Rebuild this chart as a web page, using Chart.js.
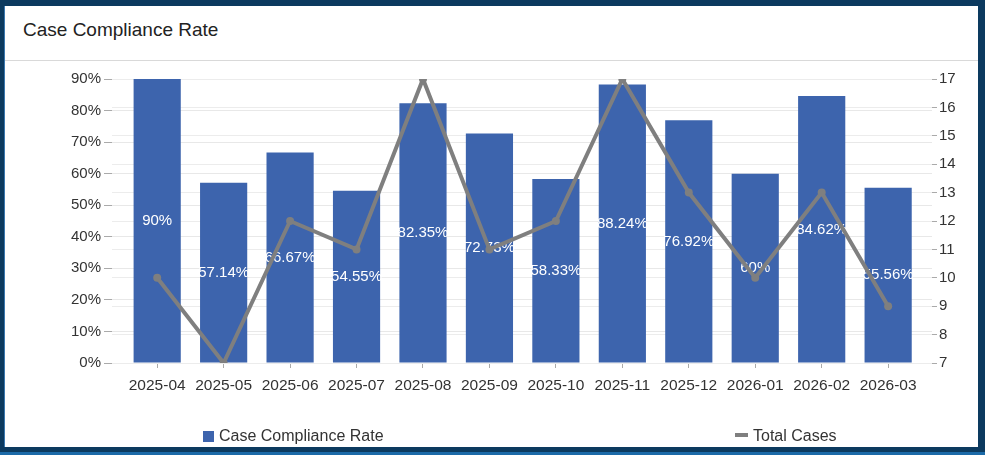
<!DOCTYPE html>
<html>
<head>
<meta charset="utf-8">
<script src="https://cdn.jsdelivr.net/npm/chart.js@4/dist/chart.umd.min.js"></script>
<style>
  html, body { margin: 0; padding: 0; }
  body { width: 985px; height: 455px; background: #0c3a5f; position: relative; overflow: hidden; font-family: "Liberation Sans", Arial, sans-serif; }
  .bottomBand { position: absolute; left: 0; top: 452px; width: 985px; height: 3px; background: #1b6aa8; }
  .panel { position: absolute; left: 4px; top: 6px; width: 974px; height: 441px; background: #fff; border-left: 1px solid #3a78b0; box-sizing: border-box; }
  .title { position: absolute; left: 23px; top: 19px; font-size: 19px; color: #222; }
  .sep { position: absolute; left: 5px; top: 60px; width: 973px; height: 1px; background: #d9d9d9; }
  #wrap { position: absolute; left: 0; top: 0; width: 985px; height: 455px; }
  .legend { position: absolute; top: 427px; font-size: 16px; color: #333; line-height: 18px; }
  .legend span.box { display: inline-block; width: 11px; height: 11px; background: #3d64ad; vertical-align: -1px; margin-right: 5px; }
  .legend span.dash { display: inline-block; width: 13px; height: 4px; background: #7f7f7f; vertical-align: 4px; margin-right: 5px; }
</style>
</head>
<body>
<div class="bottomBand"></div>
<div class="panel"></div>
<div class="title">Case Compliance Rate</div>
<div class="sep"></div>
<div id="wrap"><canvas id="chart"></canvas></div>
<div class="legend" style="left:203px"><span class="box"></span>Case Compliance Rate</div>
<div class="legend" style="left:735px"><span class="dash"></span>Total Cases</div>

<script>
// Chart data
const months = ["2025-04", "2025-05", "2025-06", "2025-07", "2025-08", "2025-09",
                "2025-10", "2025-11", "2025-12", "2026-01", "2026-02", "2026-03"];
const complianceRate = [90, 57.14, 66.67, 54.55, 82.35, 72.73, 58.33, 88.24, 76.92, 60, 84.62, 55.56];
const totalCases = [10, 7, 12, 11, 17, 11, 12, 17, 13, 10, 13, 9];
const rateTicks = [0, 10, 20, 30, 40, 50, 60, 70, 80, 90];
const caseTicks = [7, 8, 9, 10, 11, 12, 13, 14, 15, 16, 17];

const barColor = "#3d64ad";
const lineColor = "#7f7f7f";
const fontFamily = "Liberation Sans, Arial, sans-serif";

// white labels in the middle of each bar
const barLabels = {
  id: "barLabels",
  afterDatasetDraw(chart, args) {
    if (args.index !== 1) return;
    const ctx = chart.ctx;
    const yScale = chart.scales.y;
    ctx.save();
    ctx.fillStyle = "#fff";
    ctx.font = "15px " + fontFamily;
    ctx.textAlign = "center";
    ctx.textBaseline = "middle";
    args.meta.data.forEach((bar, i) => {
      const mid = (bar.y + yScale.getPixelForValue(0)) / 2;
      ctx.fillText(complianceRate[i] + "%", bar.x, mid);
    });
    ctx.restore();
  }
};

const ctx = document.getElementById("chart").getContext("2d");
new Chart(ctx, {
  type: "bar",
  data: {
    datasets: [
      {
        type: "line",
        label: "Total Cases",
        data: totalCases.map((v, i) => ({ x: i, y: v })),
        yAxisID: "y1",
        borderColor: lineColor,
        backgroundColor: lineColor,
        borderWidth: 4,
        pointRadius: 4,
        pointBackgroundColor: lineColor,
        pointBorderWidth: 0,
        tension: 0,
        order: 0
      },
      {
        type: "bar",
        label: "Case Compliance Rate",
        data: complianceRate.map((v, i) => ({ x: i, y: v })),
        yAxisID: "y",
        backgroundColor: barColor,
        categoryPercentage: 1,
        barPercentage: 0.71,
        order: 1
      }
    ]
  },
  options: {
    responsive: true,
    maintainAspectRatio: false,
    animation: false,
    layout: { padding: { left: 52, right: 13, top: 79, bottom: 62 } },
    plugins: { legend: { display: false }, tooltip: { enabled: false } },
    scales: {
      x: {
        type: "linear",
        offset: false,
        min: -0.68,
        max: 11.66,
        afterBuildTicks(scale) {
          scale.ticks = months.map((m, i) => ({ value: i }));
        },
        afterFit(scale) { scale.height = 30; },
        ticks: {
          font: { family: fontFamily, size: 15.5 },
          color: "#333",
          padding: 8,
          autoSkip: false,
          maxRotation: 0,
          callback: (v) => months[v]
        },
        grid: { offset: false, drawOnChartArea: false, drawTicks: true, tickLength: 5, tickColor: "#aaa" },
        border: { display: false }
      },
      y: {
        position: "left",
        min: 0,
        max: 90,
        afterBuildTicks(scale) {
          scale.ticks = rateTicks.map(v => ({ value: v }));
        },
        afterFit(scale) { scale.width = 60; },
        ticks: { font: { family: fontFamily, size: 15 }, color: "#333", padding: 3, callback: (v) => v + "%" },
        grid: { color: "#e8e8e8", lineWidth: 1, tickLength: 8, tickColor: "#aaa" },
        border: { display: false }
      },
      y1: {
        position: "right",
        min: 7,
        max: 17,
        afterBuildTicks(scale) {
          scale.ticks = caseTicks.map(v => ({ value: v }));
        },
        afterFit(scale) { scale.width = 40; },
        ticks: { font: { family: fontFamily, size: 15 }, color: "#333", padding: 2 },
        grid: { color: "#ececec", lineWidth: 1, tickLength: 5, tickColor: "#aaa" },
        border: { display: false }
      }
    }
  },
  plugins: [barLabels]
});
</script>
</body>
</html>
